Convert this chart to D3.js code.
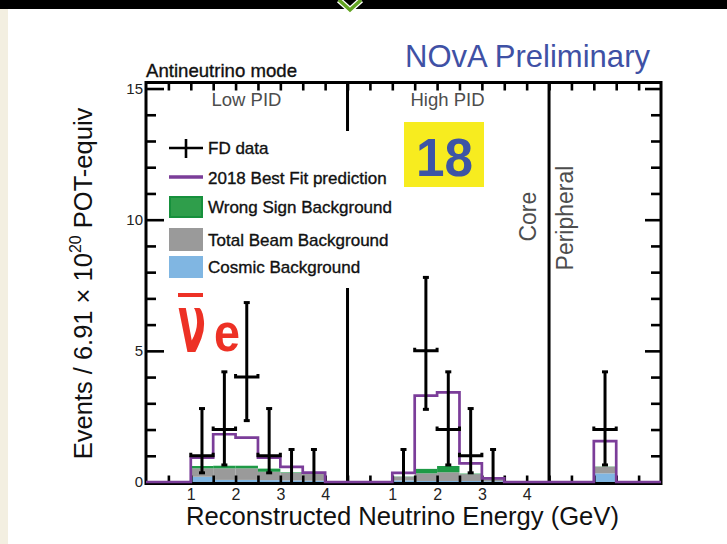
<!DOCTYPE html>
<html lang="en">
<head>
<meta charset="utf-8">
<title>NOvA antineutrino mode - nue-bar candidates</title>
<script src="https://d3js.org/d3.v7.min.js"></script>
<style>
  body { margin: 0; background: #fff; }
  svg text { font-family: "Liberation Sans", Arial, Helvetica, sans-serif; }
</style>
</head>
<body>
<script>
// lower edges of the 0.5 GeV energy bins (same in Low PID and High PID)
var binEdges = [1.0, 1.5, 2.0, 2.5, 3.0, 3.5];
var periEdges = [1.0];            // the single peripheral bin
var binWidth = 0.5;
var groupOffset = [0, 4.5, 9.0];  // Low PID, High PID, Peripheral on the joined axis

// 2018 best fit prediction
var lowPred  = [0.93, 1.82, 1.69, 0.93, 0.58, 0.36];
var highPred = [0.35, 3.29, 3.42, 0.71, 0.14, 0.00];
var periPred = [1.56];

// backgrounds (stacked: cosmic, beam, wrong sign)
var lowCosmic  = [0.20, 0.08, 0.08, 0.07, 0.06, 0.05];
var lowBeam    = [0.32, 0.44, 0.44, 0.32, 0.29, 0.28];
var lowWS      = [0.09, 0.10, 0.10, 0.12, 0.02, 0.01];
var highCosmic = [0.06, 0.04, 0.04, 0.04, 0.03, 0.01];
var highBeam   = [0.14, 0.29, 0.33, 0.26, 0.07, 0.01];
var highWS     = [0.01, 0.17, 0.24, 0.02, 0.01, 0.00];
var periCosmic = [0.33];
var periBeam   = [0.25];
var periWS     = [0.01];

// FD data counts (null = no point drawn)
var lowData  = [1, 2, 4, 1, 0, 0];
var highData = [0, 5, 2, 1, 0, null];
var periData = [2];

// error bar ends per observed count
var errCounts = [0, 1, 2, 4, 5];
var errDown   = [0, 0.35, 0.65, 2.34, 2.77];
var errUp     = [1.24, 2.80, 4.20, 6.84, 7.80];

var xTickLabels = ["1", "2", "3", "4"];
var yMajor = [0, 5, 10, 15];

var colCosmic = "#80b6e2", colBeam = "#9a9a9a", colWS = "#1e9a46", colPred = "#7b3d99";

var W = 727, H = 544;
var svg = d3.select("body").append("svg").attr("width", W).attr("height", H);

// slide surroundings
svg.append("rect").attr("width", W).attr("height", H).attr("fill", "#fff");
svg.append("rect").attr("width", 8).attr("height", H).attr("fill", "#f3efe1");
svg.append("rect").attr("width", W).attr("height", 9).attr("fill", "#000");
svg.append("polyline").attr("points", "339,0 350,10 361,0")
  .attr("fill", "none").attr("stroke", "#fff").attr("stroke-width", 6);
svg.append("polyline").attr("points", "339,0 350,10 361,0")
  .attr("fill", "none").attr("stroke", "#63a423").attr("stroke-width", 3.5);

// scales
var x = d3.scaleLinear().domain([0, 11.5]).range([146, 661]);
var y = d3.scaleLinear().domain([0, 15.23]).range([482, 82.5]);
var frameTop = 82.5, frameBottom = 483.5;

// flatten bins
var groups = [
  {off: groupOffset[0], edges: binEdges, pred: lowPred, cos: lowCosmic, beam: lowBeam, ws: lowWS, data: lowData},
  {off: groupOffset[1], edges: binEdges, pred: highPred, cos: highCosmic, beam: highBeam, ws: highWS, data: highData},
  {off: groupOffset[2], edges: periEdges, pred: periPred, cos: periCosmic, beam: periBeam, ws: periWS, data: periData}
];
var bins = [];
groups.forEach(function (g) {
  g.edges.forEach(function (e, i) {
    var x0 = g.off + e;
    bins.push({x0: x0, x1: x0 + binWidth, pred: g.pred[i], cos: g.cos[i],
               beam: g.beam[i], ws: g.ws[i], n: g.data[i]});
  });
});

// stacked fills
var layers = [
  {c: colCosmic, lo: function (b) { return 0; }, hi: function (b) { return b.cos; }},
  {c: colBeam, lo: function (b) { return b.cos; }, hi: function (b) { return b.cos + b.beam; }},
  {c: colWS, lo: function (b) { return b.cos + b.beam; }, hi: function (b) { return b.cos + b.beam + b.ws; }}
];
layers.forEach(function (l) {
  svg.append("g").selectAll("rect").data(bins).enter().append("rect")
    .attr("x", function (b) { return x(b.x0); })
    .attr("width", function (b) { return x(b.x1) - x(b.x0); })
    .attr("y", function (b) { return y(l.hi(b)); })
    .attr("height", function (b) { return y(l.lo(b)) - y(l.hi(b)); })
    .attr("fill", l.c);
});

// axes (ticks pointing inwards)
function noDomain(g) { g.select(".domain").remove(); }
var minorY = d3.range(1, 16).filter(function (v) { return v % 5 !== 0; });
var xTicks = d3.range(0.5, 11.5, 0.5);

svg.append("g").attr("transform", "translate(" + x(0) + ",0)")
  .call(d3.axisLeft(y).tickValues(yMajor).tickSize(-18).tickPadding(3).tickFormat(d3.format("d")))
  .call(noDomain);
svg.append("g").attr("transform", "translate(" + x(0) + ",0)")
  .call(d3.axisLeft(y).tickValues(minorY).tickSize(-10).tickFormat(""))
  .call(noDomain);
svg.append("g").attr("transform", "translate(" + x(11.5) + ",0)")
  .call(d3.axisRight(y).tickValues(yMajor).tickSize(-16).tickFormat(""))
  .call(noDomain);
svg.append("g").attr("transform", "translate(" + x(11.5) + ",0)")
  .call(d3.axisRight(y).tickValues(minorY).tickSize(-10).tickFormat(""))
  .call(noDomain);
svg.append("g").attr("transform", "translate(0," + frameTop + ")")
  .call(d3.axisTop(x).tickValues(xTicks).tickSize(-8).tickFormat(""))
  .call(noDomain);
svg.append("g").attr("transform", "translate(0," + frameBottom + ")")
  .call(d3.axisBottom(x).tickValues(xTicks).tickSize(-8).tickFormat(""))
  .call(noDomain);
var labelPos = [];
[groupOffset[0], groupOffset[1]].forEach(function (o) {
  xTickLabels.forEach(function (t) { labelPos.push(o + (+t)); });
});
svg.append("g").attr("class", "xlab").attr("transform", "translate(0," + frameBottom + ")")
  .call(d3.axisBottom(x).tickValues(labelPos).tickSize(0).tickPadding(5)
    .tickFormat(function (v, i) { return xTickLabels[i % 4]; }))
  .call(noDomain);

svg.selectAll(".tick line").attr("stroke", "#000").attr("stroke-width", 2.6);
svg.selectAll(".tick text").attr("font-size", 15).attr("fill", "#222")
  .attr("font-family", "Liberation Sans, Arial, sans-serif");
svg.selectAll(".xlab .tick text").attr("font-size", 16);

// frame and group dividers
var frame = svg.append("g").attr("stroke", "#000").attr("stroke-width", 3).attr("fill", "none");
frame.append("rect").attr("x", x(0)).attr("y", frameTop)
  .attr("width", x(11.5) - x(0)).attr("height", frameBottom - frameTop);
[groupOffset[1], groupOffset[2]].forEach(function (o) {
  frame.append("line").attr("x1", x(o)).attr("x2", x(o))
    .attr("y1", frameTop).attr("y2", frameBottom);
});

// legend background hides the divider
svg.append("rect").attr("x", 166).attr("y", 131).attr("width", 230).attr("height", 157).attr("fill", "#fff");

// prediction step line
var pts = [[0, 0]];
bins.forEach(function (b, i) {
  var prev = bins[i - 1];
  if (!prev || prev.x1 < b.x0) { pts.push([b.x0, 0]); }
  pts.push([b.x0, b.pred]);
  pts.push([b.x1, b.pred]);
  var next = bins[i + 1];
  if (!next || next.x0 > b.x1) { pts.push([b.x1, 0]); }
});
pts.push([11.5, 0]);
svg.append("path")
  .attr("d", d3.line().x(function (d) { return x(d[0]); }).y(function (d) { return y(d[1]); })(pts))
  .attr("fill", "none").attr("stroke", colPred).attr("stroke-width", 2.7);

// data points
var pts2 = bins.filter(function (b) { return b.n !== null; });
var dg = svg.append("g").attr("stroke", "#000").attr("stroke-width", 3).attr("fill", "none");
pts2.forEach(function (b) {
  var k = errCounts.indexOf(b.n);
  var cx = x((b.x0 + b.x1) / 2);
  dg.append("line").attr("x1", cx).attr("x2", cx).attr("y1", y(errDown[k])).attr("y2", y(errUp[k]));
  dg.append("line").attr("x1", cx - 3).attr("x2", cx + 3).attr("y1", y(errUp[k])).attr("y2", y(errUp[k]));
  if (b.n > 0) {
    var yy = y(b.n);
    dg.append("line").attr("x1", cx - 3).attr("x2", cx + 3).attr("y1", y(errDown[k])).attr("y2", y(errDown[k]));
    dg.append("path").attr("d", "M" + x(b.x0) + "," + (yy - 3) + "V" + yy + "H" + x(b.x1) + "V" + (yy - 3));
  }
});

// legend
var lg = svg.append("g");
lg.append("line").attr("x1", 169).attr("x2", 203).attr("y1", 148).attr("y2", 148).attr("stroke", "#000").attr("stroke-width", 2.6);
lg.append("line").attr("x1", 186).attr("x2", 186).attr("y1", 139).attr("y2", 158).attr("stroke", "#000").attr("stroke-width", 2.6);
lg.append("line").attr("x1", 169).attr("x2", 203).attr("y1", 177).attr("y2", 177).attr("stroke", colPred).attr("stroke-width", 3.5);
lg.append("rect").attr("x", 170).attr("y", 197).attr("width", 32).attr("height", 20).attr("fill", "#2f9e4b").attr("stroke", "#16903c").attr("stroke-width", 2);
lg.append("rect").attr("x", 169).attr("y", 228).attr("width", 34).attr("height", 23).attr("fill", colBeam);
lg.append("rect").attr("x", 169).attr("y", 256).attr("width", 34).attr("height", 22).attr("fill", colCosmic);
var legText = ["FD data", "2018 Best Fit prediction", "Wrong Sign Background", "Total Beam Background", "Cosmic Background"];
var legBase = [153.5, 183.5, 213, 246, 273];
lg.selectAll("text").data(legText).enter().append("text")
  .attr("x", 208).attr("y", function (d, i) { return legBase[i]; })
  .attr("font-size", 17).attr("fill", "#111").attr("stroke", "#111").attr("stroke-width", 0.35)
  .text(function (d) { return d; });

// titles and labels
svg.append("text").attr("x", 405).attr("y", 67).attr("font-size", 30.5).attr("fill", "#3f51a5")
  .attr("textLength", 245).attr("lengthAdjust", "spacingAndGlyphs").text("NOvA Preliminary");
svg.append("text").attr("x", 146).attr("y", 77).attr("font-size", 18.5).attr("fill", "#111")
  .attr("stroke", "#111").attr("stroke-width", 0.35)
  .attr("textLength", 151).attr("lengthAdjust", "spacingAndGlyphs").text("Antineutrino mode");
svg.append("text").attr("x", 211.5).attr("y", 106).attr("font-size", 18.5).attr("fill", "#4d4d4d").text("Low PID");
svg.append("text").attr("x", 410.5).attr("y", 106).attr("font-size", 18.5).attr("fill", "#4d4d4d").text("High PID");
svg.append("text").attr("transform", "translate(536,216.7) rotate(-90)").attr("text-anchor", "middle")
  .attr("font-size", 23).attr("fill", "#4d4d4d").text("Core");
svg.append("text").attr("transform", "translate(573,218) rotate(-90)").attr("text-anchor", "middle")
  .attr("font-size", 23).attr("fill", "#4d4d4d").text("Peripheral");

svg.append("text").attr("x", 186).attr("y", 525).attr("font-size", 25.5).attr("fill", "#111")
  .attr("textLength", 433).attr("lengthAdjust", "spacingAndGlyphs")
  .text("Reconstructed Neutrino Energy (GeV)");

var yl = svg.append("text").attr("transform", "translate(92,283.5) rotate(-90)")
  .attr("text-anchor", "middle").attr("font-size", 25.5).attr("fill", "#111");
yl.append("tspan").text("Events / 6.91 \u00d7 10");
yl.append("tspan").attr("font-size", 16).attr("dy", -11).text("20");
yl.append("tspan").attr("dy", 11).text(" POT-equiv");

// "18" box
svg.append("rect").attr("x", 404).attr("y", 122).attr("width", 80).attr("height", 65).attr("fill", "#f7ec1f");
svg.append("text").attr("x", 416).attr("y", 176).attr("font-size", 53).attr("font-weight", "bold")
  .attr("fill", "#3d55a5").attr("textLength", 57).attr("lengthAdjust", "spacingAndGlyphs").text("18");

// nu-e bar symbol: one text, the nu drawn tall and narrow
var red = "#ed3125";
svg.append("rect").attr("x", 178).attr("y", 293).attr("width", 25).attr("height", 4).attr("fill", red);
var nue = svg.append("text").attr("x", 178).attr("y", 352).attr("font-weight", "bold")
  .attr("fill", red).attr("font-size", 54);
nue.append("tspan").attr("font-size", 80).attr("font-family", "DejaVu Sans, sans-serif")
  .attr("textLength", 28).attr("lengthAdjust", "spacingAndGlyphs").text("\u03bd");
nue.append("tspan").attr("x", 214).attr("dy", -1)
  .attr("textLength", 26).attr("lengthAdjust", "spacingAndGlyphs").text("e");
</script>
</body>
</html>
